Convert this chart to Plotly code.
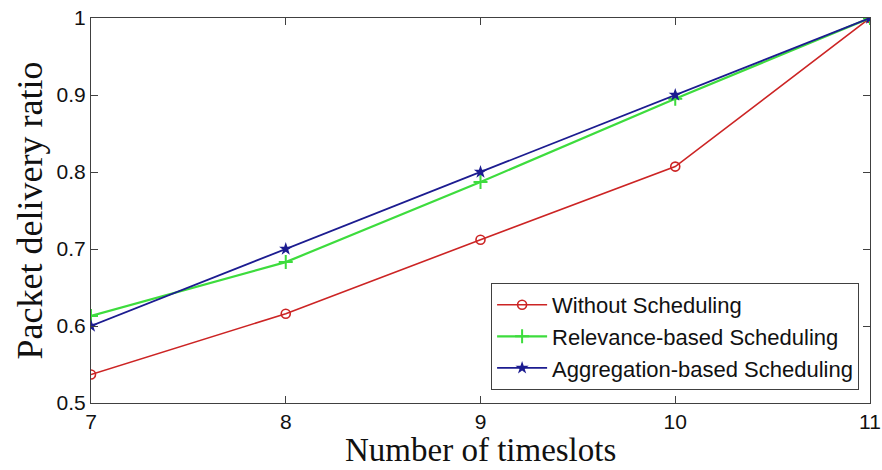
import plotly.graph_objects as go

timeslots = [7, 8, 9, 10, 11]
without_sched = [0.537, 0.616, 0.712, 0.807, 1.0]
relevance_sched = [0.613, 0.683, 0.787, 0.895, 1.0]
aggregation_sched = [0.600, 0.700, 0.800, 0.900, 1.0]

x_ticks = [7, 8, 9, 10, 11]
y_ticks = [0.5, 0.6, 0.7, 0.8, 0.9, 1.0]
y_ticklabels = ["0.5", "0.6", "0.7", "0.8", "0.9", "1"]

fig = go.Figure()
fig.add_trace(go.Scatter(
    x=timeslots, y=without_sched, name="Without Scheduling", mode="lines+markers",
    line=dict(color="#cc2424", width=1.6),
    marker=dict(symbol="circle-open", size=9, color="#cc2424", line=dict(width=1.6)),
))
fig.add_trace(go.Scatter(
    x=timeslots, y=relevance_sched, name="Relevance-based Scheduling", mode="lines+markers",
    line=dict(color="#3ddc3d", width=2.2),
    marker=dict(symbol="cross-thin-open", size=10, color="#3ddc3d", line=dict(width=2, color="#3ddc3d")),
))
fig.add_trace(go.Scatter(
    x=timeslots, y=aggregation_sched, name="Aggregation-based Scheduling", mode="lines+markers",
    line=dict(color="#1c1c90", width=1.8),
    marker=dict(symbol="star", size=10, color="#1c1c90"),
))

axis_common = dict(
    showgrid=False, zeroline=False, showline=True, linecolor="#404040", linewidth=1,
    mirror="ticks", ticks="inside", ticklen=7, tickcolor="#404040", automargin=False,
    tickfont=dict(family="Liberation Sans, Arial, sans-serif", size=21, color="#111"),
)

fig.update_xaxes(range=[7, 11], tickvals=x_ticks, **axis_common)
fig.update_yaxes(
    range=[0.5, 1.0], tickvals=y_ticks, ticktext=y_ticklabels, **axis_common,
    title=dict(text="Packet delivery ratio", font=dict(family="Liberation Serif, Times New Roman, serif", size=36, color="#111"), standoff=2),
)

fig.add_annotation(
    text="Number of timeslots", xref="paper", yref="paper", x=0.5, y=0,
    xanchor="center", yanchor="bottom", yshift=-66, showarrow=False, borderpad=0,
    font=dict(family="Liberation Serif, Times New Roman, serif", size=33, color="#111"),
)

fig.update_layout(
    width=882, height=470,
    margin=dict(l=91, r=12, t=18, b=67),
    plot_bgcolor="white", paper_bgcolor="white",
    legend=dict(
        x=0.986, y=0.034, xanchor="right", yanchor="bottom",
        bgcolor="white", bordercolor="#404040", borderwidth=1,
        font=dict(family="Liberation Sans, Arial, sans-serif", size=22, color="#111"),
        tracegroupgap=0, itemwidth=50,
    ),
    showlegend=True,
)

fig.write_html("out.html")
